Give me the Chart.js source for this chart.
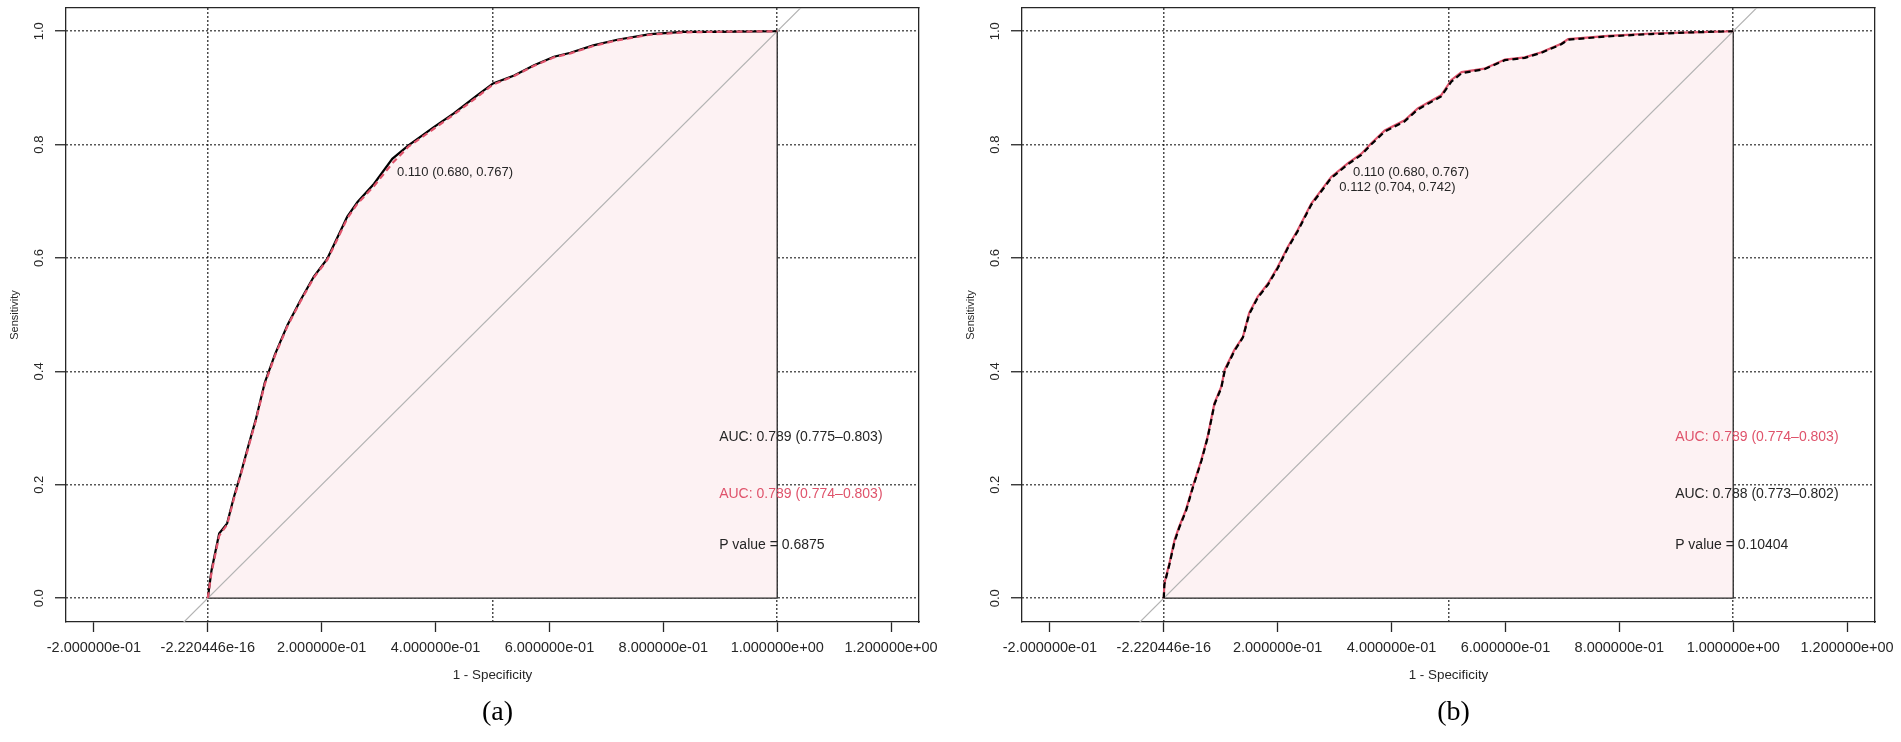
<!DOCTYPE html>
<html>
<head>
<meta charset="utf-8">
<script src="https://cdn.jsdelivr.net/npm/chart.js@4.4.1/dist/chart.umd.min.js"></script>
<style>
  html, body { margin: 0; padding: 0; background: #fff; overflow: hidden; width: 1901px; height: 742px; }
  canvas { position: absolute; top: 0; }
  #rocA { left: 0; }
  #rocB { left: 956px; }
</style>
</head>
<body>
<canvas id="rocA" width="951" height="742"></canvas>
<canvas id="rocB" width="951" height="742"></canvas>
<script>
// axis ticks (1 - specificity on x, sensitivity on y)
const xTickValues = [-0.2, 0, 0.2, 0.4, 0.6, 0.8, 1.0, 1.2];
const xTickLabels = ['-2.000000e-01', '-2.220446e-16', '2.000000e-01', '4.000000e-01',
                     '6.000000e-01', '8.000000e-01', '1.000000e+00', '1.200000e+00'];
const xGridValues = [0, 0.5, 1.0];
const yTickValues = [0, 0.2, 0.4, 0.6, 0.8, 1.0];
const yTickLabels = ['0.0', '0.2', '0.4', '0.6', '0.8', '1.0'];

// panel (a): black = first model (solid), red = second model (dashed)
const fprA = [0, 0.0065, 0.020, 0.034, 0.046, 0.058, 0.071, 0.084, 0.100, 0.118,
              0.140, 0.163, 0.186, 0.210, 0.228, 0.245, 0.263, 0.292, 0.324, 0.353,
              0.397, 0.432, 0.473, 0.501, 0.538, 0.573, 0.608, 0.637, 0.677, 0.719,
              0.777, 0.835, 0.894, 1];
const tprA1 = [0, 0.049, 0.114, 0.132, 0.179, 0.220, 0.268, 0.314, 0.380, 0.430,
               0.482, 0.526, 0.567, 0.599, 0.637, 0.673, 0.699, 0.731, 0.775, 0.799,
               0.831, 0.855, 0.887, 0.908, 0.922, 0.940, 0.955, 0.962, 0.975, 0.985,
               0.995, 0.999, 0.999, 1];
const tprA2 = [0, 0.045, 0.110, 0.130, 0.176, 0.218, 0.265, 0.312, 0.377, 0.428,
               0.480, 0.524, 0.565, 0.597, 0.634, 0.670, 0.696, 0.727, 0.767, 0.797,
               0.828, 0.853, 0.884, 0.906, 0.921, 0.939, 0.954, 0.961, 0.974, 0.984,
               0.994, 0.998, 0.999, 1];

// panel (b): red = first model (solid), black = second model (dashed)
const fprB = [0, 0.001, 0.010, 0.019, 0.027, 0.039, 0.051, 0.066, 0.077, 0.089,
              0.101, 0.107, 0.124, 0.139, 0.150, 0.165, 0.183, 0.200, 0.218, 0.235,
              0.259, 0.294, 0.323, 0.347, 0.364, 0.388, 0.423, 0.446, 0.487, 0.505,
              0.523, 0.563, 0.599, 0.634, 0.663, 0.698, 0.710, 0.780, 0.856, 0.927, 1];
const tprB1 = [0, 0.026, 0.062, 0.103, 0.126, 0.156, 0.197, 0.244, 0.285, 0.344,
               0.373, 0.403, 0.438, 0.461, 0.503, 0.532, 0.555, 0.584, 0.620, 0.649,
               0.696, 0.743, 0.767, 0.784, 0.802, 0.825, 0.843, 0.864, 0.887, 0.914,
               0.928, 0.934, 0.950, 0.954, 0.963, 0.978, 0.986, 0.992, 0.996, 0.998, 1];
const tprB2 = [0, 0.024, 0.060, 0.100, 0.124, 0.154, 0.195, 0.242, 0.283, 0.342,
               0.371, 0.401, 0.436, 0.460, 0.501, 0.530, 0.553, 0.582, 0.618, 0.647,
               0.694, 0.741, 0.765, 0.782, 0.800, 0.823, 0.841, 0.862, 0.885, 0.911,
               0.926, 0.933, 0.949, 0.953, 0.962, 0.977, 0.985, 0.991, 0.995, 0.998, 1];

// best thresholds: [threshold, specificity, sensitivity]
const thresA = [[0.110, 0.680, 0.767]];
const thresB = [[0.110, 0.680, 0.767], [0.112, 0.704, 0.742]];

// AUC text rows, top to bottom
const aucTextA = ['AUC: 0.789 (0.775\u20130.803)', 'AUC: 0.789 (0.774\u20130.803)', 'P value = 0.6875'];
const aucTextB = ['AUC: 0.789 (0.774\u20130.803)', 'AUC: 0.788 (0.773\u20130.802)', 'P value = 0.10404'];

const X_MIN = -0.249, X_MAX = 1.249, Y_MIN = -0.042, Y_MAX = 1.041;
const FONT = "'Liberation Sans', Arial, sans-serif";
const INK = '#262626';
const RED = '#DF536B';
const PINK = '#fdf2f3';
const DOTS = [1.4, 2.6];

const pts = (xs, ys) => xs.map((x, i) => ({ x, y: ys[i] }));

const rocText = {
  id: 'rocText',
  afterDatasetsDraw(chart, args, o) {
    const { ctx } = chart;
    const x = chart.scales.x, y = chart.scales.y;
    ctx.save();
    ctx.textAlign = 'left';
    ctx.textBaseline = 'middle';
    ctx.fillStyle = INK;
    ctx.font = `13px ${FONT}`;
    o.thres.forEach(([t, sp, se]) => {
      const label = `${t.toFixed(3)} (${sp.toFixed(3)}, ${se.toFixed(3)})`;
      ctx.fillText(label, x.getPixelForValue(1 - sp) + 7, y.getPixelForValue(se) + 9.5);
    });
    ctx.font = `14px ${FONT}`;
    const rowY = [0.284, 0.184, 0.094];
    o.auc.forEach((txt, i) => {
      ctx.fillStyle = o.aucColors[i];
      ctx.fillText(txt, x.getPixelForValue(0.898), y.getPixelForValue(rowY[i]));
    });
    ctx.restore();
  },
  afterDraw(chart, args, o) {
    const { ctx, chartArea } = chart;
    const y = chart.scales.y;
    ctx.save();
    ctx.fillStyle = INK;
    ctx.font = `13px ${FONT}`;
    ctx.textAlign = 'center';
    ctx.textBaseline = 'middle';
    y.ticks.forEach((t, i) => {
      ctx.save();
      ctx.translate(y.right - 27, y.getPixelForValue(t.value));
      ctx.rotate(-Math.PI / 2);
      ctx.fillText(yTickLabels[i], 0, 0);
      ctx.restore();
    });
    ctx.fillStyle = '#000';
    ctx.font = "28px 'Liberation Serif', 'Times New Roman', serif";
    ctx.fillText(o.panel, (chartArea.left + chartArea.right) / 2 + 5, 713);
    ctx.restore();
  }
};

function makePanel(id, p) {
  const poly = pts(p.fpr, p.polyTpr);
  const first = poly[0], last = poly[poly.length - 1];
  const edge = [{ x: first.x, y: first.y }, { x: last.x, y: first.y }, { x: last.x, y: last.y }];
  const diag = [X_MIN, X_MAX].map(v => ({ x: v, y: v }));

  new Chart(document.getElementById(id), {
    type: 'line',
    data: {
      datasets: [
        // listed top-most first
        { data: pts(p.fpr, p.topTpr), borderColor: p.topColor, borderWidth: 2.2, borderDash: [6, 4] },
        { data: pts(p.fpr, p.polyTpr), borderColor: p.polyColor, borderWidth: 2.2 },
        { data: diag, borderColor: '#b3b3b3', borderWidth: 1.2 },
        { data: edge, borderColor: INK, borderWidth: 1.3 },
        { data: poly, borderWidth: 0, borderColor: 'rgba(0,0,0,0)', backgroundColor: PINK, fill: { value: 0 } }
      ]
    },
    options: {
      responsive: false,
      animation: false,
      events: [],
      layout: { padding: { top: 8, left: 0, right: 0, bottom: 0 } },
      elements: { point: { radius: 0 }, line: { tension: 0 } },
      plugins: {
        legend: { display: false },
        tooltip: { enabled: false },
        rocText: { thres: p.thres, auc: p.auc, aucColors: p.aucColors, panel: p.panel }
      },
      scales: {
        x: {
          type: 'linear', position: 'bottom', min: X_MIN, max: X_MAX,
          afterBuildTicks: s => { s.ticks = xTickValues.map(value => ({ value })); },
          afterFit: s => { s.height = 120; },
          ticks: {
            autoSkip: false, maxRotation: 0, minRotation: 0, padding: 7, color: INK,
            font: { family: FONT, size: 14.5 },
            callback: (v, i) => xTickLabels[i]
          },
          grid: { drawOnChartArea: false, drawTicks: true, tickLength: 10, tickColor: INK, tickWidth: 1.3 },
          border: { display: true, color: INK, width: 1.3 },
          title: {
            display: true, text: '1 - Specificity', color: INK,
            font: { family: FONT, size: 13.4 }, padding: { top: 0, bottom: 59 }
          }
        },
        y: {
          type: 'linear', position: 'left', min: Y_MIN, max: Y_MAX,
          afterBuildTicks: s => { s.ticks = yTickValues.map(value => ({ value })); },
          afterFit: s => { s.width = 66; },
          ticks: { display: false },
          grid: { color: '#111', lineWidth: 1.5, drawTicks: true, tickLength: 11, tickColor: INK, tickWidth: 1.3, tickBorderDash: [] },
          border: { display: true, color: INK, width: 1.3, dash: DOTS },
          title: {
            display: true, text: 'Sensitivity', color: INK,
            font: { family: FONT, size: 11 }, padding: { top: 8.4, bottom: 0 }
          }
        },
        x2: {
          type: 'linear', position: 'top', min: X_MIN, max: X_MAX,
          afterBuildTicks: s => { s.ticks = xGridValues.map(value => ({ value })); },
          afterFit: s => { s.height = 0; },
          ticks: { display: false },
          grid: { color: '#111', lineWidth: 1.5, drawTicks: false },
          border: { display: true, color: INK, width: 1.3, dash: DOTS }
        },
        y2: {
          type: 'linear', position: 'right', min: Y_MIN, max: Y_MAX,
          afterFit: s => { s.width = 32; },
          ticks: { display: false },
          grid: { display: false },
          border: { display: true, color: INK, width: 1.3 }
        }
      }
    },
    plugins: [rocText]
  });
}

makePanel('rocA', {
  fpr: fprA, polyTpr: tprA1, polyColor: '#000', topTpr: tprA2, topColor: RED,
  thres: thresA, auc: aucTextA, aucColors: [INK, RED, INK], panel: '(a)'
});
makePanel('rocB', {
  fpr: fprB, polyTpr: tprB1, polyColor: RED, topTpr: tprB2, topColor: '#000',
  thres: thresB, auc: aucTextB, aucColors: [RED, INK, INK], panel: '(b)'
});
</script>
</body>
</html>
